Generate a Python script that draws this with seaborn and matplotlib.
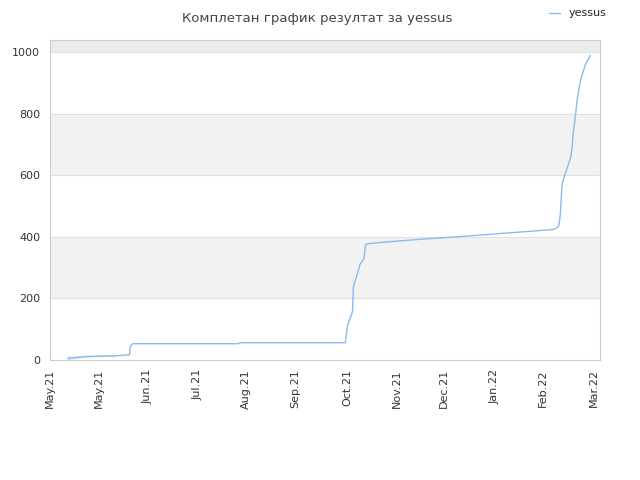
import matplotlib
matplotlib.use("Agg")
import matplotlib.pyplot as plt
import seaborn as sns
import pandas as pd

days = [11, 11, 22, 22, 40, 40, 49, 49.5, 51, 116, 117, 182, 182.6, 183.3, 184.5, 186, 186.5, 187, 187, 190, 191, 193.5, 194.5, 196, 200, 204,
        215, 230, 250, 270, 290, 310, 312.5, 313.5, 314.5, 315.5, 316, 321, 322, 322.3, 324, 325, 327, 330, 333]
score = [0, 10, 10, 12, 12, 15, 17, 45, 53, 53, 56, 56, 80, 110, 130, 150, 160, 210, 265, 290, 310, 330, 375, 378, 380, 382,
         387, 393, 400, 408, 416, 424, 430, 435, 470, 560, 580, 660, 700, 730, 800, 850, 910, 960, 990]
tick_pos = [0, 30, 60, 91, 121, 151, 183, 214, 243, 274, 304, 335]
tick_labels = ["May.21", "May.21", "Jun.21", "Jul.21", "Aug.21", "Sep.21", "Oct.21", "Nov.21", "Dec.21", "Jan.22", "Feb.22", "Mar.22"]

df = pd.DataFrame({"day": days, "score": score})
sns.set_style("white")
fig = plt.figure(figsize=(6.4, 4.8), dpi=100)
ax = fig.add_axes([50/640, 120/480, 550/640, 320/480])
for lo, hi, c in [(200, 400, "#f2f2f2"), (600, 800, "#f2f2f2"), (1000, 1040, "#ececec")]:
    ax.axhspan(lo, hi, color=c, zorder=0, lw=0)
for y in [200, 400, 600, 800, 1000]:
    ax.axhline(y, color="#e0e0e0", lw=0.8, zorder=0)
sns.lineplot(data=df, x="day", y="score", ax=ax, color="#88bbee", lw=1, label="yessus", sort=False)
ax.set_xlim(0, 339)
ax.set_ylim(0, 1040)
ax.set_yticks([0, 200, 400, 600, 800, 1000])
ax.set_xticks(tick_pos)
ax.set_xticklabels(tick_labels, rotation=90, fontsize=8, color="#333333")
ax.tick_params(axis="y", labelsize=8, colors="#333333")
ax.tick_params(axis="x", length=3, color="#999999")
ax.set_xlabel(""); ax.set_ylabel("")
for s in ax.spines.values():
    s.set_color("#cccccc")
ax.legend(loc="upper right", bbox_to_anchor=(1.03, 1.13), frameon=False, fontsize=8, handlelength=1.0)
fig.text(0.495, 0.975, "Комплетан график резултат за yessus", ha="center", va="top", fontsize=9.5, color="#444444")
fig.savefig("out.png", dpi=100)
